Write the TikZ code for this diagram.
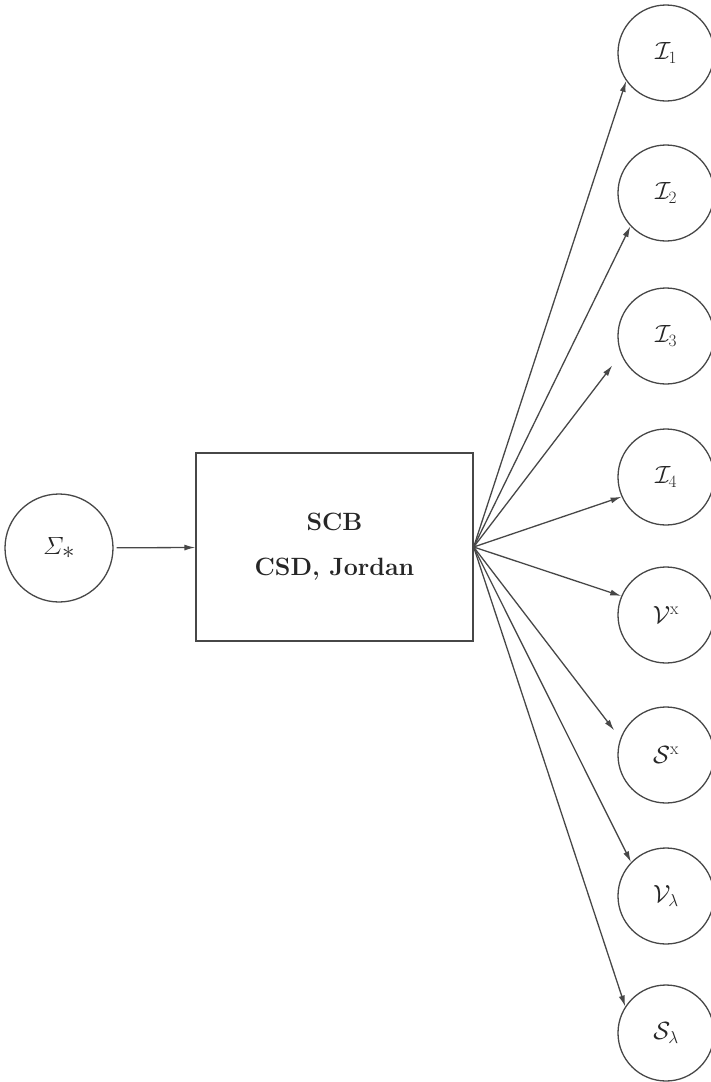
\documentclass[tikz,border=0pt]{standalone}
\usepackage{amsmath}
\usetikzlibrary{arrows.meta}
\begin{document}
\begin{tikzpicture}[x=1pt,y=-1pt,
  ln/.style={draw=black!72, line width=1.3pt},
  outc/.style={circle, ln, minimum size=96pt, inner sep=0pt, text=black!85, font=\fontsize{25}{29}\selectfont},
  arr/.style={ln, -{Latex[length=11pt,width=6pt]}}
]
\useasboundingbox (0,0) rectangle (711,1082);
\node[circle, ln, minimum size=108pt, inner sep=0pt, text=black!85, font=\fontsize{40}{44}\selectfont] (sig) at (59,548) {$\varSigma_*$};
\node[rectangle, ln, minimum width=277pt, minimum height=188pt, align=center, text=black!85,
      font=\fontsize{25}{30}\selectfont\bfseries] (box) at (334.5,547) {SCB\\[15pt]CSD, Jordan};
\coordinate (fan) at (box.east);
\node[outc] (I1) at (666,53) {$\mathcal{I}_1$};
\node[outc] (I2) at (666,193) {$\mathcal{I}_2$};
\node[outc] (I3) at (666,336) {$\mathcal{I}_3$};
\node[outc] (I4) at (666,477) {$\mathcal{I}_4$};
\node[outc] (Vx) at (666,615) {$\mathcal{V}^{\mathrm{x}}$};
\node[outc] (Sx) at (666,755) {$\mathcal{S}^{\mathrm{x}}$};
\node[outc] (Vl) at (666,896) {$\mathcal{V}_{\lambda}$};
\node[outc] (Sl) at (666,1033) {$\mathcal{S}_{\lambda}$};
\draw[arr, shorten <=3pt] (sig) -- (box);
\draw[arr] (fan) -- (I1.215);
\draw[arr] (fan) -- (I2.223);
\draw[arr, shorten >=14pt] (fan) -- (I3.202);
\draw[arr] (fan) -- (I4.204);
\draw[arr] (fan) -- (Vx.157);
\draw[arr, shorten >=10pt] (fan) -- (Sx.160);
\draw[arr] (fan) -- (Vl.136);
\draw[arr] (fan) -- (Sl.147);
\end{tikzpicture}
\end{document}
